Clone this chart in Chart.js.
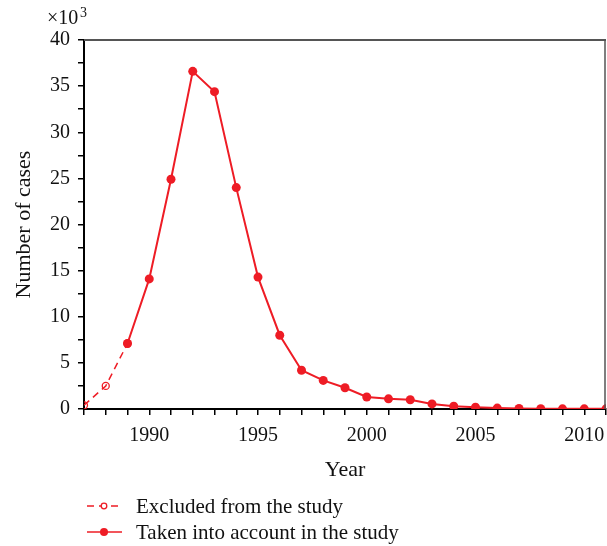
<!DOCTYPE html>
<html>
<head>
<meta charset="utf-8">
<script src="https://cdn.jsdelivr.net/npm/chart.js@4/dist/chart.umd.min.js"></script>
<style>
  html, body { margin: 0; padding: 0; background: #fff; }
  #wrap { width: 607px; height: 546px; position: relative; }
</style>
</head>
<body>
<div id="wrap"><canvas id="c"></canvas></div>
<script>
// годы и значения (тыс. случаев)
const excludedYears = [1987, 1988, 1989];
const excludedCases = [0.4, 2.5, 7.1];
const takenYears = [1989, 1990, 1991, 1992, 1993, 1994, 1995, 1996, 1997, 1998, 1999, 2000,
  2001, 2002, 2003, 2004, 2005, 2006, 2007, 2008, 2009, 2010, 2011];
const takenCases = [7.1, 14.1, 24.9, 36.6, 34.4, 24.0, 14.3, 8.0, 4.2, 3.1, 2.3, 1.3,
  1.1, 1.0, 0.55, 0.3, 0.2, 0.1, 0.05, 0.03, 0.02, 0.02, 0.02];
const legendLabels = ['Excluded from the study', 'Taken into account in the study'];

const RED = '#ee1c25';
const FONT = "'Liberation Serif', 'DejaVu Serif', serif";

const toXY = (xs, ys) => xs.map((x, i) => ({ x, y: ys[i] }));

// рамка сверху/справа, множитель ×10³ и легенда снизу
const decor = {
  id: 'decor',
  afterDraw(chart) {
    const { ctx, chartArea: a } = chart;
    ctx.save();
    ctx.strokeStyle = '#555';
    ctx.lineWidth = 2;
    ctx.beginPath();
    ctx.moveTo(a.left, a.top);
    ctx.lineTo(a.right, a.top);
    ctx.stroke();
    ctx.lineWidth = 1.5;
    ctx.beginPath();
    ctx.moveTo(a.right - 1, a.top);
    ctx.lineTo(a.right - 1, a.bottom);
    ctx.stroke();

    ctx.fillStyle = '#111';
    ctx.textBaseline = 'alphabetic';
    ctx.font = '20px ' + FONT;
    ctx.fillText('×10', 47, 24);
    ctx.font = '14px ' + FONT;
    ctx.fillText('3', 80, 17);

    // легенда
    const rows = [506, 532];
    chart.data.datasets.forEach((ds, i) => {
      const y = rows[i];
      ctx.strokeStyle = ds.borderColor;
      ctx.lineWidth = 1.5;
      ctx.setLineDash(ds.borderDash || []);
      ctx.beginPath();
      ctx.moveTo(87, y);
      ctx.lineTo(122, y);
      ctx.stroke();
      ctx.setLineDash([]);
      ctx.beginPath();
      ctx.arc(104, y, i === 0 ? 2.8 : 4, 0, Math.PI * 2);
      if (i === 0) {
        ctx.fillStyle = '#fff';
        ctx.fill();
        ctx.lineWidth = 1.3;
        ctx.stroke();
      } else {
        ctx.fillStyle = ds.borderColor;
        ctx.fill();
      }
      ctx.fillStyle = '#111';
      ctx.font = '21px ' + FONT;
      ctx.textBaseline = 'middle';
      ctx.fillText(legendLabels[i], 136, y + 1);
    });
    ctx.restore();
  },
};

new Chart(document.getElementById('c'), {
  type: 'line',
  data: {
    datasets: [
      {
        label: legendLabels[0],
        data: toXY(excludedYears, excludedCases),
        borderColor: RED, borderWidth: 1.5, borderDash: [7, 5],
        pointRadius: 3.5, pointBackgroundColor: 'rgba(0,0,0,0)', pointBorderColor: RED, pointBorderWidth: 1.3,
        fill: false, tension: 0,
      },
      {
        label: legendLabels[1],
        data: toXY(takenYears, takenCases),
        borderColor: RED, borderWidth: 2,
        pointRadius: 4.5, pointBackgroundColor: RED, pointBorderColor: RED, pointBorderWidth: 0,
        fill: false, tension: 0,
      },
    ],
  },
  options: {
    responsive: true, maintainAspectRatio: false, animation: false,
    layout: { autoPadding: false, padding: { top: 40, right: 1, left: 0, bottom: 0 } },
    plugins: { legend: { display: false }, tooltip: { enabled: false } },
    scales: {
      x: {
        type: 'linear', min: 1987, max: 2011,
        afterFit(s) { s.height = 137; s.paddingRight = 0; s.paddingLeft = 0; },
        border: { display: true, color: '#000', width: 2 },
        grid: { drawOnChartArea: false, drawTicks: true, tickLength: 6, color: '#000', lineWidth: 1.5 },
        ticks: {
          stepSize: 1, autoSkip: false, maxRotation: 0, padding: 9,
          color: '#111', font: { family: FONT, size: 20 },
          callback: v => (v % 5 === 0 ? String(v) : ''),
        },
        title: { display: true, text: 'Year', color: '#111', font: { family: FONT, size: 22 }, padding: { top: 63, bottom: 63 } },
      },
      y: {
        min: 0, max: 40,
        afterFit(s) { s.width = 84; },
        border: { display: true, color: '#000', width: 2 },
        grid: { drawOnChartArea: false, drawTicks: true, tickLength: 6, color: '#000', lineWidth: 1.5 },
        ticks: {
          stepSize: 2.5, autoSkip: false, padding: 8,
          color: '#111', font: { family: FONT, size: 20 },
          callback: v => (v % 5 === 0 ? String(v) : ''),
        },
        title: { display: true, text: 'Number of cases', color: '#111', font: { family: FONT, size: 22 }, padding: { top: 11, bottom: 11 } },
      },
    },
  },
  plugins: [decor],
});
</script>
</body>
</html>
